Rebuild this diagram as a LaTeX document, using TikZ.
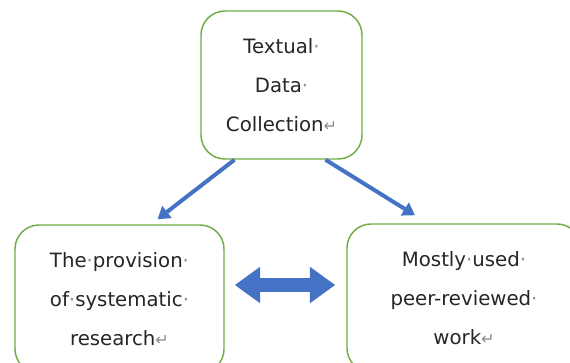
\documentclass[tikz,border=0pt]{standalone}
\usepackage{fontspec}
\setmainfont{DejaVu Sans}
\usepackage{tikz}
\usetikzlibrary{arrows.meta,calc}
\usepackage{xcolor}
\definecolor{boxgreen}{HTML}{70AD47}
\definecolor{flowblue}{HTML}{4472C4}
\definecolor{markgray}{HTML}{8C8C8C}
\definecolor{inkgray}{HTML}{262626}
\newcommand{\wsp}{{\color{markgray}·}}
\newcommand{\pmark}{{\color{markgray}\fontsize{12}{12}\selectfont ↵}}
\tikzset{
  textbox/.style={rectangle, draw=boxgreen, line width=1.1pt, rounded corners=18pt,
    fill=white, text=inkgray, align=center, minimum height=111pt,
    font=\fontsize{14.8}{29.5}\selectfont},
  flow/.style={draw=flowblue, line width=3pt, -{Triangle[length=9pt,width=11pt]}},
  link/.style={draw=flowblue, line width=10.5pt,
    {Triangle[length=19pt,width=26pt]}-{Triangle[length=19pt,width=26pt]}}
}

\begin{document}
\begin{tikzpicture}[x=0.75pt, y=-0.75pt]
  \useasboundingbox (0,0) rectangle (570,362);
  \clip (0,0) rectangle (570,362);

  \node (textual) [textbox, minimum width=120.75pt] at (281.5,85)
    {Textual\wsp\\Data\wsp\\Collection\pmark};
  \node (prov) [textbox, minimum width=156.75pt] at (119.5,299)
    {The\wsp provision\wsp\\of\wsp systematic\wsp\\research\pmark};
  \node (peer) [textbox, minimum width=175.5pt] at (464,298)
    {Mostly\wsp used\wsp\\peer-reviewed\wsp\\work\pmark};

  \draw[flow] ($(textual.south)+(-47,0)$) -- ($(prov.north)+(38,-5)$);
  \draw[flow] ($(textual.south)+(44,0)$) -- ($(peer.north)+(-49,-8)$);
  \draw[link] ($(prov.east)+(10,-14)$) -- ($(peer.west)+(-11,-13)$);
\end{tikzpicture}
\end{document}
